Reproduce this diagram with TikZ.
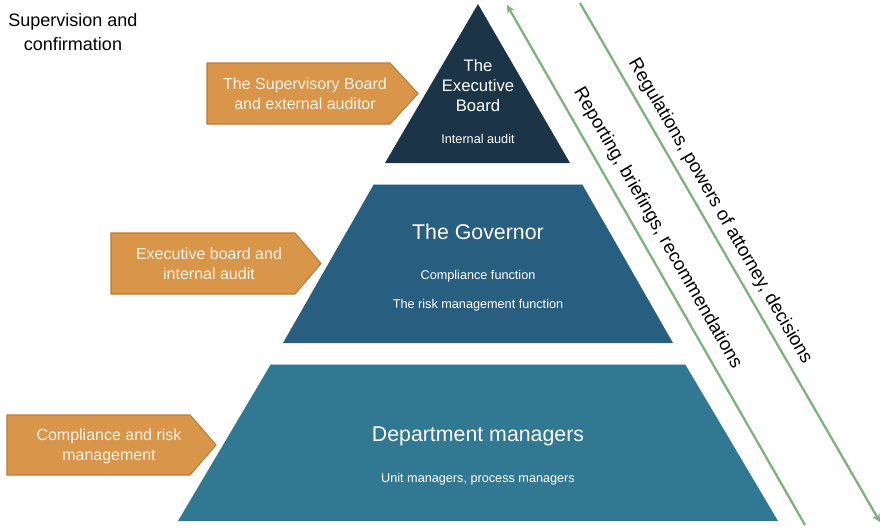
\documentclass[tikz,border=0pt]{standalone}
\usepackage{fontspec}
\setmainfont{Liberation Sans}
\definecolor{toplayer}{RGB}{28,52,71}
\definecolor{midlayer}{RGB}{40,94,128}
\definecolor{lowlayer}{RGB}{49,120,147}
\definecolor{tagfill}{RGB}{217,150,75}
\definecolor{tagedge}{RGB}{190,122,52}
\definecolor{tagink}{RGB}{253,242,228}
\definecolor{flowgreen}{RGB}{125,178,125}
\begin{document}
\begin{tikzpicture}[>=stealth, x=0.75pt, y=-0.75pt,
    tag/.style={fill=tagfill, draw=tagedge, line width=0.8pt},
    tagtext/.style={text=tagink, align=center, font=\fontsize{12}{15}\selectfont},
    big/.style={text=white, align=center, font=\fontsize{16}{19}\selectfont},
    small/.style={text=white, align=center, font=\fontsize{9.5}{11}\selectfont},
    flow/.style={draw=flowgreen, line width=1.7pt},
    flowtext/.style={font=\fontsize{14}{16}\selectfont, sloped}]
    \useasboundingbox (0,0) rectangle (885,529);
    % pyramid
    \fill[toplayer](478,4)--(570,163)--(385,163)--cycle;
    \fill[midlayer](374,184)--(582,184)--(673,343)--(283,343)--cycle;
    \fill[lowlayer](271,364)--(685,364)--(778,521)--(178,521)--cycle;
    \draw[white!60!midlayer, line width=0.8pt](374,184.5)--(582,184.5);
    \draw[white!60!lowlayer, line width=0.8pt](271,364.5)--(685,364.5);
    \node[big,font=\fontsize{12.5}{15}\selectfont] (exec) at (478,86) {The\\Executive\\Board};
    \node[small] (audit) at (478,139) {Internal audit};
    \node[big] (gov) at (478,232) {The Governor};
    \node[small] (comp) at (478,276) {Compliance function};
    \node[small] (risk) at (478,305) {The risk management function};
    \node[big] (dept) at (478,436) {Department managers};
    \node[small] (unit) at (478,479) {Unit managers, process managers};
    % tags on the left
    \draw[tag](207,63)--(390,63)--(418,93.5)--(390,124)--(207,124)--cycle;
    \node[tagtext] (board) at (305,93.5) {The Supervisory Board\\and external auditor};
    \draw[tag](111,233)--(295,233)--(321,263.5)--(295,294)--(111,294)--cycle;
    \node[tagtext] (eb) at (209,264) {Executive board and\\internal audit};
    \draw[tag](7,415)--(190,415)--(216,445)--(190,475)--(7,475)--cycle;
    \node[tagtext] (crm) at (109,446) {Compliance and risk\\management};
    \node[align=center, font=\fontsize{13.5}{18.5}\selectfont] (sup) at (73,32) {Supervision and\\confirmation};
    % flows
    \coordinate (rtop) at (507,5);
    \coordinate (rbot) at (805,525);
    \coordinate (gtop) at (580,3);
    \coordinate (gbot) at (880,522);
    \draw[flow,<-](rtop)--node[flowtext, pos=0.448, above=4pt]{Reporting, briefings, recommendations}(rbot);
    \draw[flow,->](gtop)--node[flowtext, pos=0.418, above=2pt]{Regulations, powers of attorney, decisions}(gbot);
\end{tikzpicture}
\end{document}
